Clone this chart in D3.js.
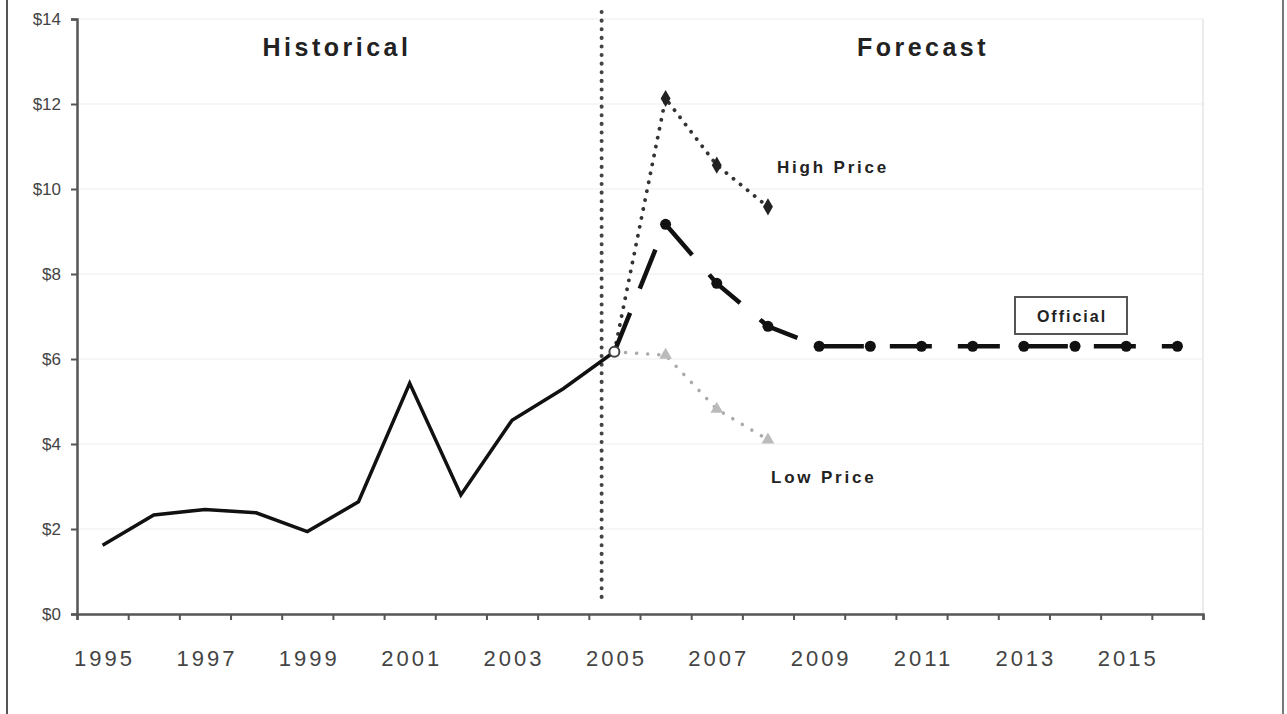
<!DOCTYPE html>
<html><head><meta charset="utf-8">
<script src="https://cdn.jsdelivr.net/npm/d3@7"></script>
<style>
html,body{margin:0;padding:0;background:#fff;}
svg{display:block;}
</style></head>
<body>
<svg id="chart" width="1287" height="714"></svg>
<script>
// ---- data ----
const years = d3.range(1995, 2017);
const histYears  = [1995,1996,1997,1998,1999,2000,2001,2002,2003,2004,2005];
const histValues = [1.62,2.33,2.46,2.38,1.94,2.64,5.43,2.80,4.56,5.30,6.17];
const officialYears  = [2005,2006,2007,2008,2009,2010,2011,2012,2013,2014,2015,2016];
const officialValues = [6.17,9.17,7.78,6.77,6.30,6.30,6.30,6.30,6.30,6.30,6.30,6.30];
const highYears  = [2005,2006,2007,2008];
const highValues = [6.17,12.13,10.56,9.58];
const lowYears   = [2005,2006,2007,2008];
const lowValues  = [6.17,6.09,4.82,4.10];
const yTicks = [0,2,4,6,8,10,12,14];
const xLabelYears = [1995,1997,1999,2001,2003,2005,2007,2009,2011,2013,2015];
const dividerYear = 2004.75;

const svg = d3.select("#chart");
const x = d3.scaleLinear().domain([1994.5, 2016.5]).range([77, 1203]);
const y = d3.scaleLinear().domain([0, 14]).range([614, 19]);

// outer frame (left/right)
svg.append("line").attr("x1",7).attr("x2",7).attr("y1",0).attr("y2",714).attr("stroke","#555").attr("stroke-width",2);
svg.append("line").attr("x1",1283).attr("x2",1283).attr("y1",0).attr("y2",714).attr("stroke","#777").attr("stroke-width",2);

// faint plot border & gridlines
svg.append("g").selectAll("line").data(yTicks.slice(1)).join("line")
  .attr("x1", x(1994.5)).attr("x2", x(2016.5))
  .attr("y1", d=>y(d)).attr("y2", d=>y(d))
  .attr("stroke", "#f3f3f3").attr("stroke-width", 1.5);
svg.append("line").attr("x1",x(2016.5)).attr("x2",x(2016.5)).attr("y1",y(14)).attr("y2",y(0))
  .attr("stroke","#e6e6e6").attr("stroke-width",1.5);

// axes
const xAxisTicks = svg.append("g").attr("transform",`translate(0,${y(0)})`)
  .call(d3.axisBottom(x).tickValues(d3.range(1994.5, 2017, 1)).tickSize(6).tickFormat(""));
const xAxisLabels = svg.append("g").attr("transform",`translate(1.5,${y(0)})`)
  .call(d3.axisBottom(x).tickValues(xLabelYears).tickSize(0).tickPadding(36).tickFormat(d3.format("d")));
xAxisLabels.select(".domain").remove();
xAxisLabels.selectAll("text").attr("font-family","'Liberation Sans', Arial, sans-serif")
  .attr("font-size",22).attr("fill","#444").attr("letter-spacing","3px");
xAxisTicks.select(".domain").attr("stroke","#555").attr("stroke-width",2.5);
xAxisTicks.selectAll(".tick line").attr("stroke","#555").attr("stroke-width",2);

const yAxis = svg.append("g").attr("transform",`translate(${x(1994.5)},0)`)
  .call(d3.axisLeft(y).tickValues(yTicks).tickSize(6).tickPadding(10).tickFormat(d=>"$"+d));
yAxis.select(".domain").attr("stroke","#555").attr("stroke-width",2.5);
yAxis.selectAll(".tick line").attr("stroke","#555").attr("stroke-width",2);
yAxis.selectAll("text").attr("font-family","'Liberation Sans', Arial, sans-serif")
  .attr("font-size",17).attr("fill","#444");

// divider
svg.append("line").attr("x1",x(dividerYear)).attr("x2",x(dividerYear))
  .attr("y1",12).attr("y2",604)
  .attr("stroke","#444").attr("stroke-width",4).attr("stroke-linecap","round")
  .attr("stroke-dasharray","0.1,8.5");

const line = d3.line().x(d=>x(d[0])).y(d=>y(d[1]));
const zip = (a,b)=>a.map((v,i)=>[v,b[i]]);

// low price
const lowData = zip(lowYears, lowValues);
svg.append("path").attr("d", line(lowData)).attr("fill","none")
  .attr("stroke","#aaa").attr("stroke-width",3.5).attr("stroke-linecap","round").attr("stroke-dasharray","0.1,11");
svg.append("g").selectAll("path").data(lowData.slice(1)).join("path")
  .attr("d", d3.symbol(d3.symbolTriangle, 70))
  .attr("transform", d=>`translate(${x(d[0])},${y(d[1])})`).attr("fill","#bbb");

// high price
const highData = zip(highYears, highValues);
svg.append("path").attr("d", line(highData)).attr("fill","none")
  .attr("stroke","#333").attr("stroke-width",3.8).attr("stroke-linecap","round").attr("stroke-dasharray","0.1,9");
svg.append("g").selectAll("path").data(highData.slice(1)).join("path")
  .attr("d", d3.symbol(d3.symbolDiamond, 85))
  .attr("transform", d=>`translate(${x(d[0])},${y(d[1])})`).attr("fill","#222");

// historical
svg.append("path").attr("d", line(zip(histYears, histValues))).attr("fill","none")
  .attr("stroke","#111").attr("stroke-width",3.5).attr("stroke-linejoin","miter");

// official
const offData = zip(officialYears, officialValues);
svg.append("path").attr("d", line(offData)).attr("fill","none")
  .attr("stroke","#111").attr("stroke-width",4.5).attr("stroke-dasharray","42,26");
svg.append("g").selectAll("circle").data(offData.slice(1)).join("circle")
  .attr("cx", d=>x(d[0])).attr("cy", d=>y(d[1])).attr("r",5.5).attr("fill","#111");
svg.append("circle").attr("cx", x(officialYears[0])).attr("cy", y(officialValues[0]))
  .attr("r",5).attr("fill","#fff").attr("stroke","#444").attr("stroke-width",2);

// annotations
const boldFont = "'Liberation Sans', Arial, sans-serif";
svg.append("text").attr("x",337).attr("y",56).attr("text-anchor","middle")
  .attr("font-family",boldFont).attr("font-weight","bold").attr("font-size",25)
  .attr("letter-spacing","3.5px").attr("fill","#222").text("Historical");
svg.append("text").attr("x",923).attr("y",56).attr("text-anchor","middle")
  .attr("font-family",boldFont).attr("font-weight","bold").attr("font-size",25)
  .attr("letter-spacing","3.5px").attr("fill","#222").text("Forecast");
svg.append("text").attr("x",777).attr("y",173)
  .attr("font-family",boldFont).attr("font-weight","bold").attr("font-size",17)
  .attr("letter-spacing","2.8px").attr("fill","#222").text("High Price");
svg.append("text").attr("x",771).attr("y",483)
  .attr("font-family",boldFont).attr("font-weight","bold").attr("font-size",17)
  .attr("letter-spacing","2.8px").attr("fill","#222").text("Low Price");
svg.append("rect").attr("x",1015).attr("y",297).attr("width",112).attr("height",37)
  .attr("fill","#fff").attr("stroke","#555").attr("stroke-width",2);
svg.append("text").attr("x",1072).attr("y",322).attr("text-anchor","middle")
  .attr("font-family",boldFont).attr("font-weight","bold").attr("font-size",16)
  .attr("letter-spacing","2px").attr("fill","#222").text("Official");
</script>
</body></html>
